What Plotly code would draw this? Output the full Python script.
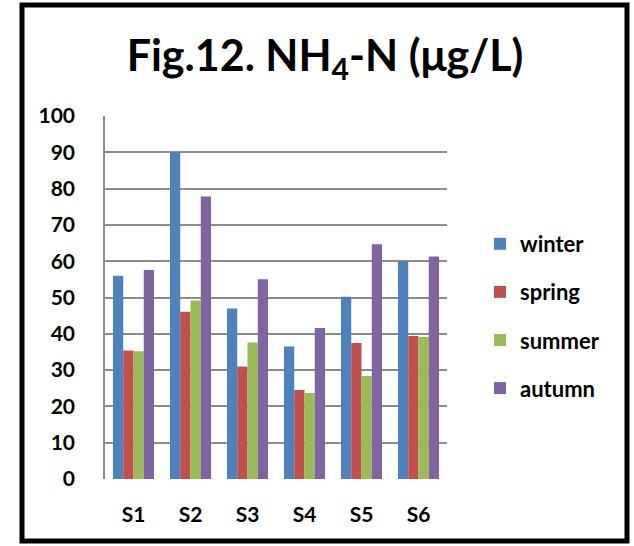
import plotly.graph_objects as go

# NH4-N concentration by station and season
stations = ["S1", "S2", "S3", "S4", "S5", "S6"]
winter = [56.0, 90.0, 47.0, 36.5, 50.2, 60.0]
spring = [35.4, 46.1, 31.0, 24.5, 37.5, 39.4]
summer = [35.2, 49.2, 37.6, 23.7, 28.4, 39.1]
autumn = [57.6, 77.8, 55.0, 41.6, 64.7, 61.3]

series = [
    ("winter", winter, "#4F81BD"),
    ("spring", spring, "#C0504D"),
    ("summer", summer, "#9BBB59"),
    ("autumn", autumn, "#8064A2"),
]

W, H = 634, 546
L, R, T, B = 105, 187, 116, 67
pw, ph = W - L - R, H - T - B

FONT = "Lato"

fig = go.Figure()
for name, vals, col in series:
    fig.add_trace(go.Bar(
        x=stations, y=vals, name=name, legendgroup=name,
        marker=dict(color=col, line=dict(width=0)),
    ))

def px_x(v):
    return (v - L) / pw

def px_y(v):
    return (H - B - v) / ph

# outer black frame
fig.add_shape(type="rect", xref="paper", yref="paper",
              x0=px_x(22), x1=px_x(627), y0=px_y(541), y1=px_y(5),
              line=dict(color="black", width=5), fillcolor="rgba(0,0,0,0)")

tick_font = dict(family=FONT, size=21, color="black", weight="bold")

fig.update_layout(
    width=W, height=H,
    margin=dict(l=L, r=R, t=T, b=B),
    paper_bgcolor="white", plot_bgcolor="white",
    barmode="group", bargap=0.28, bargroupgap=0.0,
    font=dict(family=FONT, color="black"),
    title=dict(text="Fig.12. NH<sub>4</sub>-N (μg/L)",
               x=px_x(325), xanchor="center", xref="paper",
               y=1 - 56 / H, yanchor="middle",
               font=dict(family=FONT, size=43, color="black", weight="bold")),
    xaxis=dict(showline=False, ticks="", showgrid=False,
               tickfont=tick_font, ticklabelstandoff=21),
    yaxis=dict(range=[0, 100], dtick=10, showgrid=True,
               gridcolor="#8C8C8C", gridwidth=1.5,
               showline=True, linecolor="#8C8C8C", linewidth=1.5,
               ticks="", zeroline=False,
               tickfont=tick_font, ticklabelstandoff=24),
    legend=dict(x=px_x(480), xanchor="left", y=px_y(223), yanchor="top",
                itemwidth=30,
                font=dict(family=FONT, size=22, color="black", weight="bold"),
                tracegroupgap=16.5, bgcolor="rgba(0,0,0,0)"),
)

fig.write_html("out.html")
